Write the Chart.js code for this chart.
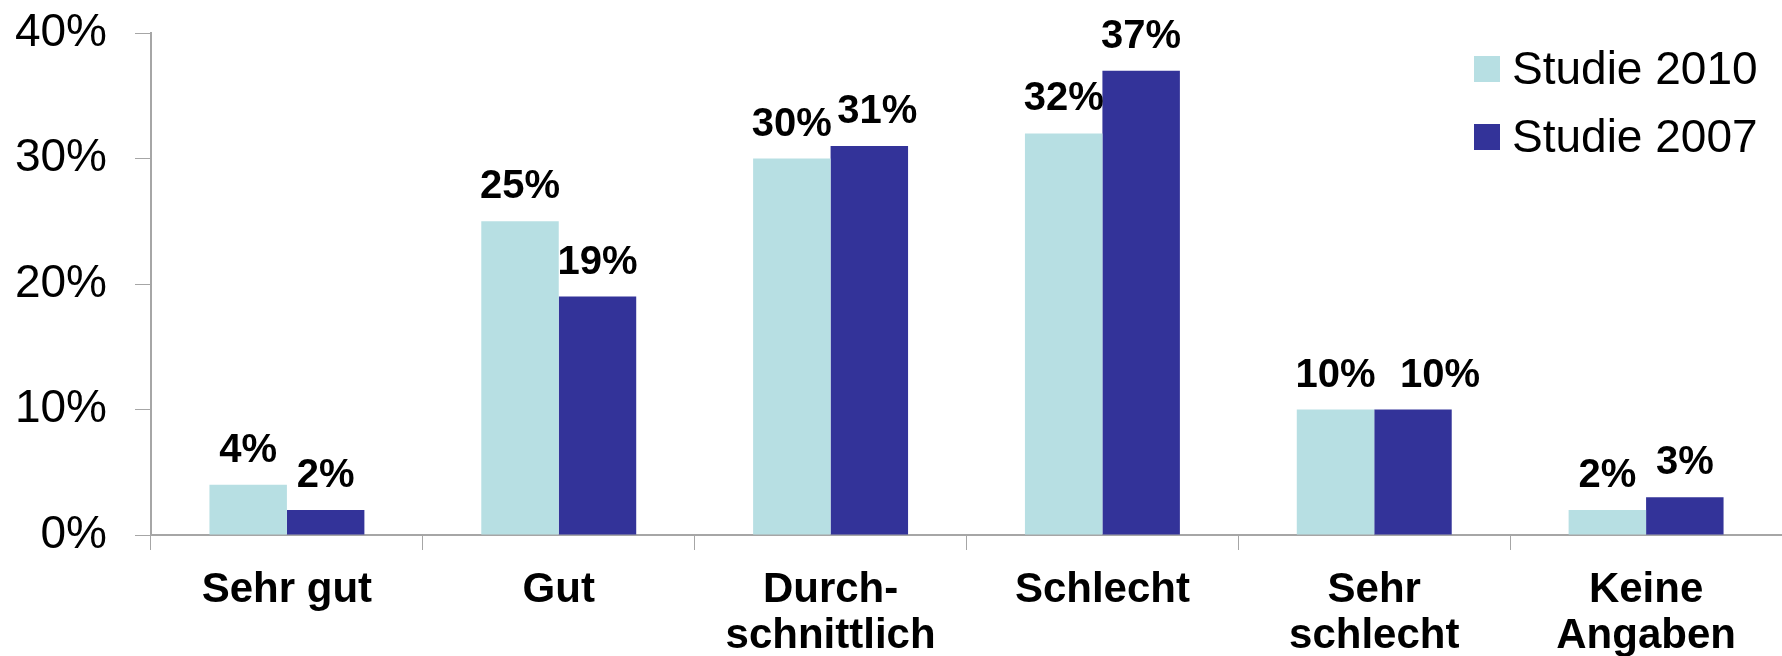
<!DOCTYPE html>
<html>
<head>
<meta charset="utf-8">
<script src="https://cdn.jsdelivr.net/npm/chart.js@4"></script>
<style>
  html, body { margin: 0; padding: 0; background: #fff; }
  #wrap { width: 1782px; height: 656px; }
</style>
</head>
<body>
<div id="wrap"><canvas id="chart" width="1782" height="656"></canvas></div>
<script>
// categories (multi-line labels as arrays)
const categories = [
  ['Sehr gut'],
  ['Gut'],
  ['Durch-', 'schnittlich'],
  ['Schlecht'],
  ['Sehr', 'schlecht'],
  ['Keine', 'Angaben']
];
const seriesNames = ['Studie 2010', 'Studie 2007'];
const studie2010 = [4, 25, 30, 32, 10, 2];
const studie2007 = [2, 19, 31, 37, 10, 3];
const yTicks = [0, 10, 20, 30, 40];

const LIGHT = '#b7dfe3';
const DARK = '#333399';
const AXIS = '#a6a6a6';
const FONT = "'Liberation Sans', Arial, sans-serif";

// a few labels are pushed sideways so neighbours don't collide
const labelShift = { '1-2': 8, '1-4': 27 };

// value labels above every bar
const barLabels = {
  id: 'barLabels',
  afterDatasetsDraw(chart) {
    const ctx = chart.ctx;
    ctx.save();
    ctx.font = 'bold 40px ' + FONT;
    ctx.fillStyle = '#000';
    ctx.textAlign = 'center';
    ctx.textBaseline = 'alphabetic';
    chart.data.datasets.forEach((ds, i) => {
      chart.getDatasetMeta(i).data.forEach((bar, j) => {
        const dx = labelShift[i + '-' + j] || 0;
        ctx.fillText(ds.data[j] + '%', bar.x + dx, bar.y - 23);
      });
    });
    ctx.restore();
  }
};

// legend drawn over the top right of the plot
const cornerLegend = {
  id: 'cornerLegend',
  afterDraw(chart) {
    const ctx = chart.ctx;
    ctx.save();
    ctx.font = '46px ' + FONT;
    ctx.textBaseline = 'middle';
    ctx.textAlign = 'left';
    chart.data.datasets.forEach((ds, i) => {
      const cy = 69 + i * 68;
      ctx.fillStyle = ds.backgroundColor;
      ctx.fillRect(1474, cy - 13, 26, 26);
      ctx.fillStyle = '#000';
      ctx.fillText(ds.label, 1512, cy + 2);
    });
    ctx.restore();
  }
};

new Chart(document.getElementById('chart'), {
  type: 'bar',
  data: {
    labels: categories,
    datasets: [
      { label: seriesNames[0], data: studie2010, backgroundColor: LIGHT },
      { label: seriesNames[1], data: studie2007, backgroundColor: DARK }
    ]
  },
  options: {
    responsive: false,
    animation: false,
    layout: { padding: { top: 33, right: 0, left: 0, bottom: 0 } },
    datasets: {
      bar: { categoryPercentage: 0.57, barPercentage: 1.0 }
    },
    plugins: {
      legend: { display: false },
      tooltip: { enabled: false }
    },
    scales: {
      x: {
        grid: { drawOnChartArea: false, drawTicks: true, tickLength: 15, color: AXIS, offset: true },
        border: { color: AXIS, width: 2 },
        ticks: {
          color: '#000',
          font: { family: FONT, size: 42, weight: 'bold', lineHeight: 1.1 },
          padding: 17,
          maxRotation: 0,
          autoSkip: false
        },
        afterFit(scale) {
          scale.height = 121;
          scale.paddingLeft = 0;
          scale.paddingRight = 0;
        }
      },
      y: {
        min: yTicks[0],
        max: yTicks[yTicks.length - 1],
        afterBuildTicks(scale) { scale.ticks = yTicks.map(v => ({ value: v })); },
        grid: { drawOnChartArea: false, drawTicks: true, tickLength: 16, color: AXIS },
        border: { color: AXIS, width: 2 },
        ticks: {
          color: '#000',
          font: { family: FONT, size: 46 },
          padding: 28,
          callback: v => v + '%'
        },
        afterFit(scale) {
          scale.width = 151;
          scale.paddingTop = 0;
          scale.paddingBottom = 0;
        }
      }
    }
  },
  plugins: [barLabels, cornerLegend]
});
</script>
</body>
</html>
